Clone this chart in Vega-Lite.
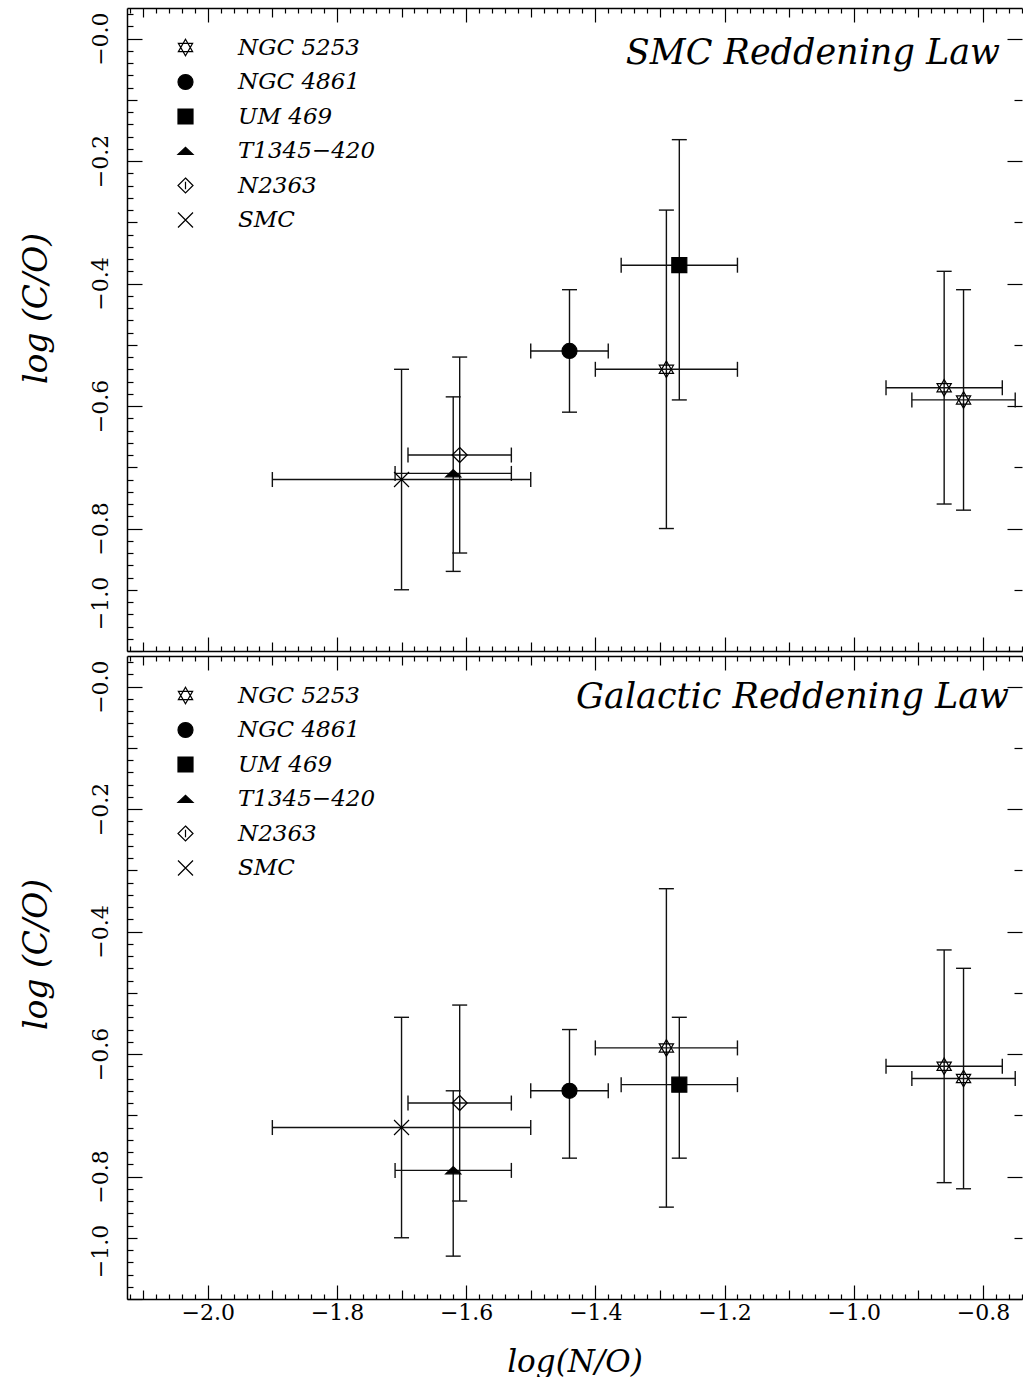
{
  "$schema": "https://vega.github.io/schema/vega-lite/v6.json",
  "padding": {"left": 20, "top": 7, "right": 0, "bottom": 0},
  "background": "white",
  "config": {
    "view": {"stroke": null},
    "font": "DejaVu Serif",
    "axis": {"grid": false, "domainColor": "black", "domainWidth": 1.5, "tickColor": "black", "tickWidth": 1.2, "labelColor": "black", "titleColor": "black", "labelFont": "DejaVu Serif", "titleFont": "DejaVu Serif", "labelFlush": false, "labelOverlap": false, "labelBound": false}
  },
  "datasets": {
    "smc": [
      {"name": "NGC 5253", "x": -1.29, "y": -0.54, "xlo": -1.40, "xhi": -1.18, "ylo": -0.80, "yhi": -0.28},
      {"name": "NGC 5253", "x": -0.86, "y": -0.57, "xlo": -0.95, "xhi": -0.77, "ylo": -0.76, "yhi": -0.38},
      {"name": "NGC 5253", "x": -0.83, "y": -0.59, "xlo": -0.91, "xhi": -0.75, "ylo": -0.77, "yhi": -0.41},
      {"name": "NGC 4861", "x": -1.44, "y": -0.51, "xlo": -1.50, "xhi": -1.38, "ylo": -0.61, "yhi": -0.41},
      {"name": "UM 469", "x": -1.27, "y": -0.37, "xlo": -1.36, "xhi": -1.18, "ylo": -0.59, "yhi": -0.165},
      {"name": "T1345−420", "x": -1.62, "y": -0.71, "xlo": -1.71, "xhi": -1.53, "ylo": -0.87, "yhi": -0.585},
      {"name": "N2363", "x": -1.61, "y": -0.68, "xlo": -1.69, "xhi": -1.53, "ylo": -0.84, "yhi": -0.52},
      {"name": "SMC", "x": -1.70, "y": -0.72, "xlo": -1.90, "xhi": -1.50, "ylo": -0.90, "yhi": -0.54}
    ],
    "gal": [
      {"name": "NGC 5253", "x": -1.29, "y": -0.59, "xlo": -1.40, "xhi": -1.18, "ylo": -0.85, "yhi": -0.33},
      {"name": "NGC 5253", "x": -0.86, "y": -0.62, "xlo": -0.95, "xhi": -0.77, "ylo": -0.81, "yhi": -0.43},
      {"name": "NGC 5253", "x": -0.83, "y": -0.64, "xlo": -0.91, "xhi": -0.75, "ylo": -0.82, "yhi": -0.46},
      {"name": "NGC 4861", "x": -1.44, "y": -0.66, "xlo": -1.50, "xhi": -1.38, "ylo": -0.77, "yhi": -0.56},
      {"name": "UM 469", "x": -1.27, "y": -0.65, "xlo": -1.36, "xhi": -1.18, "ylo": -0.77, "yhi": -0.54},
      {"name": "T1345−420", "x": -1.62, "y": -0.79, "xlo": -1.71, "xhi": -1.53, "ylo": -0.93, "yhi": -0.66},
      {"name": "N2363", "x": -1.61, "y": -0.68, "xlo": -1.69, "xhi": -1.53, "ylo": -0.84, "yhi": -0.52},
      {"name": "SMC", "x": -1.70, "y": -0.72, "xlo": -1.90, "xhi": -1.50, "ylo": -0.90, "yhi": -0.54}
    ]
  },
  "spacing": 3,
  "resolve": {"scale": {"shape": "independent", "fill": "independent", "stroke": "independent"}, "legend": {"shape": "independent", "fill": "independent", "stroke": "independent"}},
  "vconcat": [
    {
      "width": 895, "height": 643,
      "data": {"name": "smc"},
      "title": {"text": "SMC Reddening Law", "anchor": "end", "frame": "group", "offset": -92, "dx": -22, "baseline": "alphabetic", "font": "DejaVu Serif", "fontStyle": "italic", "fontWeight": "normal", "fontSize": 35, "color": "black"},
      "resolve": {"axis": {"x": "independent", "y": "independent"}},
      "layer": [
        {
          "mark": {"type": "rule", "color": "#111", "strokeWidth": 1.4},
          "encoding": {
            "x": {"field": "xlo", "type": "quantitative", "scale": {"domain": [-2.125, -0.7395], "nice": false, "zero": false},
              "axis": {"orient": "bottom", "tickCount": 70, "labels": false, "title": null,
                "tickSize": {"expr": "abs(round(datum.value*50)) % 10 == 0 ? -14 : (abs(round(datum.value*50)) % 5 == 0 ? -9 : -5)"}}},
            "x2": {"field": "xhi"},
            "y": {"field": "y", "type": "quantitative", "scale": {"domain": [-1.0, 0.05], "nice": false, "zero": false},
              "axis": {"orient": "left", "tickCount": 52,
                "tickSize": {"expr": "abs(round(datum.value*50)) % 10 == 0 ? -15 : (abs(round(datum.value*50)) % 5 == 0 ? -10 : -6)"},
                "labelExpr": "abs(round(datum.value*50)) % 10 == 0 ? '−' + format(abs(datum.value), '.1f') : ''",
                "labelAngle": 270, "labelAlign": "center", "labelBaseline": "bottom", "labelPadding": 30, "labelFontSize": 22,
                "labelOffset": {"condition": {"test": "datum.value < -0.99", "value": -48}, "value": 0},
                "title": "log (C/O)", "titleFontStyle": "italic", "titleFontWeight": "normal", "titleFontSize": 33,
                "titleAngle": 270, "titleAlign": "center", "titleBaseline": "bottom", "titleX": -74, "titleY": 300}}
          }
        },
        {
          "mark": {"type": "rule", "color": "#111", "strokeWidth": 1.4},
          "encoding": {
            "x": {"field": "x", "type": "quantitative", "scale": {"domain": [-2.125, -0.7395], "nice": false, "zero": false},
              "axis": {"orient": "top", "tickCount": 70, "labels": false, "title": null,
                "tickSize": {"expr": "abs(round(datum.value*50)) % 10 == 0 ? -14 : (abs(round(datum.value*50)) % 5 == 0 ? -9 : -5)"}}},
            "y": {"field": "ylo", "type": "quantitative", "scale": {"domain": [-1.0, 0.05], "nice": false, "zero": false},
              "axis": {"orient": "right", "tickCount": 10, "labels": false, "title": null, "domain": false,
                "tickSize": {"expr": "abs(round(datum.value*50)) % 10 == 0 ? -15 : -8"}}},
            "y2": {"field": "yhi"}
          }
        },
        {
          "mark": {"type": "point", "shape": "M0,-1L0,1", "size": 225, "stroke": "#111", "strokeWidth": 1.4, "filled": false, "opacity": 1},
          "encoding": {"x": {"field": "xlo", "type": "quantitative", "axis": null}, "y": {"field": "y", "type": "quantitative", "axis": null}}
        },
        {
          "mark": {"type": "point", "shape": "M0,-1L0,1", "size": 225, "stroke": "#111", "strokeWidth": 1.4, "filled": false, "opacity": 1},
          "encoding": {"x": {"field": "xhi", "type": "quantitative", "axis": null}, "y": {"field": "y", "type": "quantitative", "axis": null}}
        },
        {
          "mark": {"type": "point", "shape": "M-1,0L1,0", "size": 225, "stroke": "#111", "strokeWidth": 1.4, "filled": false, "opacity": 1},
          "encoding": {"x": {"field": "x", "type": "quantitative", "axis": null}, "y": {"field": "ylo", "type": "quantitative", "axis": null}}
        },
        {
          "mark": {"type": "point", "shape": "M-1,0L1,0", "size": 225, "stroke": "#111", "strokeWidth": 1.4, "filled": false, "opacity": 1},
          "encoding": {"x": {"field": "x", "type": "quantitative", "axis": null}, "y": {"field": "yhi", "type": "quantitative", "axis": null}}
        },
        {
          "mark": {"type": "point", "filled": false, "strokeWidth": 1.2, "size": 225, "opacity": 1},
          "encoding": {
            "x": {"field": "x", "type": "quantitative", "axis": null},
            "y": {"field": "y", "type": "quantitative", "axis": null},
            "shape": {"field": "name", "type": "nominal",
              "scale": {"domain": ["NGC 5253", "NGC 4861", "UM 469", "T1345−420", "N2363", "SMC"],
                "range": ["M0,-1.1L0.95,0.55L-0.95,0.55ZM0,1.1L0.95,-0.55L-0.95,-0.55Z", "circle", "square", "M-1,0.45L1,0.45L0,-0.5Z", "M0,-1L1,0L0,1L-1,0ZM0,-0.5L0,0.5", "M-1,-1L1,1M-1,1L1,-1"]},
              "legend": {"orient": "none", "legendX": 47, "legendY": 28, "direction": "vertical", "title": null, "padding": 0, "labelFont": "DejaVu Serif", "labelFontStyle": "italic", "labelFontSize": 23, "labelColor": "black", "labelOffset": 41, "labelLimit": 300, "rowPadding": 10.5, "symbolSize": 225, "symbolStrokeColor": "black", "symbolStrokeWidth": 1.2}},
            "fill": {"field": "name", "type": "nominal",
              "scale": {"domain": ["NGC 5253", "NGC 4861", "UM 469", "T1345−420", "N2363", "SMC"],
                "range": ["transparent", "black", "black", "black", "transparent", "transparent"]},
              "legend": {"orient": "none", "legendX": 47, "legendY": 28, "direction": "vertical", "title": null, "padding": 0, "labelFont": "DejaVu Serif", "labelFontStyle": "italic", "labelFontSize": 23, "labelColor": "black", "labelOffset": 41, "labelLimit": 300, "rowPadding": 10.5, "symbolSize": 225, "symbolStrokeColor": "black", "symbolStrokeWidth": 1.2}},
            "stroke": {"field": "name", "type": "nominal",
              "scale": {"domain": ["NGC 5253", "NGC 4861", "UM 469", "T1345−420", "N2363", "SMC"],
                "range": ["black", "black", "black", "black", "black", "black"]},
              "legend": {"orient": "none", "legendX": 47, "legendY": 28, "direction": "vertical", "title": null, "padding": 0, "labelFont": "DejaVu Serif", "labelFontStyle": "italic", "labelFontSize": 23, "labelColor": "black", "labelOffset": 41, "labelLimit": 300, "rowPadding": 10.5, "symbolSize": 225, "symbolStrokeColor": "black", "symbolStrokeWidth": 1.2}}
          }
        }
      ]
    },
    {
      "width": 895, "height": 643,
      "data": {"name": "gal"},
      "title": {"text": "Galactic Reddening Law", "anchor": "end", "frame": "group", "offset": -88, "dx": -13, "baseline": "alphabetic", "font": "DejaVu Serif", "fontStyle": "italic", "fontWeight": "normal", "fontSize": 35, "color": "black"},
      "resolve": {"axis": {"x": "independent", "y": "independent"}},
      "layer": [
        {
          "mark": {"type": "rule", "color": "#111", "strokeWidth": 1.4},
          "encoding": {
            "x": {"field": "xlo", "type": "quantitative", "scale": {"domain": [-2.125, -0.7395], "nice": false, "zero": false},
              "axis": {"orient": "bottom", "tickCount": 70,
                "tickSize": {"expr": "abs(round(datum.value*50)) % 10 == 0 ? -14 : (abs(round(datum.value*50)) % 5 == 0 ? -9 : -5)"},
                "labelExpr": "abs(round(datum.value*50)) % 10 == 0 ? '−' + format(abs(datum.value), '.1f') : ''",
                "labelAngle": 0, "labelAlign": "center", "labelBaseline": "top", "labelPadding": 17, "labelFontSize": 22,
                "title": "log(N/O)", "titleFontStyle": "italic", "titleFontWeight": "normal", "titleFontSize": 31, "titlePadding": 15}},
            "x2": {"field": "xhi"},
            "y": {"field": "y", "type": "quantitative", "scale": {"domain": [-1.0, 0.05], "nice": false, "zero": false},
              "axis": {"orient": "left", "tickCount": 52,
                "tickSize": {"expr": "abs(round(datum.value*50)) % 10 == 0 ? -15 : (abs(round(datum.value*50)) % 5 == 0 ? -10 : -6)"},
                "labelExpr": "abs(round(datum.value*50)) % 10 == 0 ? '−' + format(abs(datum.value), '.1f') : ''",
                "labelAngle": 270, "labelAlign": "center", "labelBaseline": "bottom", "labelPadding": 30, "labelFontSize": 22,
                "labelOffset": {"condition": {"test": "datum.value < -0.99", "value": -48}, "value": 0},
                "title": "log (C/O)", "titleFontStyle": "italic", "titleFontWeight": "normal", "titleFontSize": 33,
                "titleAngle": 270, "titleAlign": "center", "titleBaseline": "bottom", "titleX": -74, "titleY": 298}}
          }
        },
        {
          "mark": {"type": "rule", "color": "#111", "strokeWidth": 1.4},
          "encoding": {
            "x": {"field": "x", "type": "quantitative", "scale": {"domain": [-2.125, -0.7395], "nice": false, "zero": false},
              "axis": {"orient": "top", "tickCount": 70, "labels": false, "title": null,
                "tickSize": {"expr": "abs(round(datum.value*50)) % 10 == 0 ? -14 : (abs(round(datum.value*50)) % 5 == 0 ? -9 : -5)"}}},
            "y": {"field": "ylo", "type": "quantitative", "scale": {"domain": [-1.0, 0.05], "nice": false, "zero": false},
              "axis": {"orient": "right", "tickCount": 10, "labels": false, "title": null, "domain": false,
                "tickSize": {"expr": "abs(round(datum.value*50)) % 10 == 0 ? -15 : -8"}}},
            "y2": {"field": "yhi"}
          }
        },
        {
          "mark": {"type": "point", "shape": "M0,-1L0,1", "size": 225, "stroke": "#111", "strokeWidth": 1.4, "filled": false, "opacity": 1},
          "encoding": {"x": {"field": "xlo", "type": "quantitative", "axis": null}, "y": {"field": "y", "type": "quantitative", "axis": null}}
        },
        {
          "mark": {"type": "point", "shape": "M0,-1L0,1", "size": 225, "stroke": "#111", "strokeWidth": 1.4, "filled": false, "opacity": 1},
          "encoding": {"x": {"field": "xhi", "type": "quantitative", "axis": null}, "y": {"field": "y", "type": "quantitative", "axis": null}}
        },
        {
          "mark": {"type": "point", "shape": "M-1,0L1,0", "size": 225, "stroke": "#111", "strokeWidth": 1.4, "filled": false, "opacity": 1},
          "encoding": {"x": {"field": "x", "type": "quantitative", "axis": null}, "y": {"field": "ylo", "type": "quantitative", "axis": null}}
        },
        {
          "mark": {"type": "point", "shape": "M-1,0L1,0", "size": 225, "stroke": "#111", "strokeWidth": 1.4, "filled": false, "opacity": 1},
          "encoding": {"x": {"field": "x", "type": "quantitative", "axis": null}, "y": {"field": "yhi", "type": "quantitative", "axis": null}}
        },
        {
          "mark": {"type": "point", "filled": false, "strokeWidth": 1.2, "size": 225, "opacity": 1},
          "encoding": {
            "x": {"field": "x", "type": "quantitative", "axis": null},
            "y": {"field": "y", "type": "quantitative", "axis": null},
            "shape": {"field": "name", "type": "nominal",
              "scale": {"domain": ["NGC 5253", "NGC 4861", "UM 469", "T1345−420", "N2363", "SMC"],
                "range": ["M0,-1.1L0.95,0.55L-0.95,0.55ZM0,1.1L0.95,-0.55L-0.95,-0.55Z", "circle", "square", "M-1,0.45L1,0.45L0,-0.5Z", "M0,-1L1,0L0,1L-1,0ZM0,-0.5L0,0.5", "M-1,-1L1,1M-1,1L1,-1"]},
              "legend": {"orient": "none", "legendX": 47, "legendY": 28, "direction": "vertical", "title": null, "padding": 0, "labelFont": "DejaVu Serif", "labelFontStyle": "italic", "labelFontSize": 23, "labelColor": "black", "labelOffset": 41, "labelLimit": 300, "rowPadding": 10.5, "symbolSize": 225, "symbolStrokeColor": "black", "symbolStrokeWidth": 1.2}},
            "fill": {"field": "name", "type": "nominal",
              "scale": {"domain": ["NGC 5253", "NGC 4861", "UM 469", "T1345−420", "N2363", "SMC"],
                "range": ["transparent", "black", "black", "black", "transparent", "transparent"]},
              "legend": {"orient": "none", "legendX": 47, "legendY": 28, "direction": "vertical", "title": null, "padding": 0, "labelFont": "DejaVu Serif", "labelFontStyle": "italic", "labelFontSize": 23, "labelColor": "black", "labelOffset": 41, "labelLimit": 300, "rowPadding": 10.5, "symbolSize": 225, "symbolStrokeColor": "black", "symbolStrokeWidth": 1.2}},
            "stroke": {"field": "name", "type": "nominal",
              "scale": {"domain": ["NGC 5253", "NGC 4861", "UM 469", "T1345−420", "N2363", "SMC"],
                "range": ["black", "black", "black", "black", "black", "black"]},
              "legend": {"orient": "none", "legendX": 47, "legendY": 28, "direction": "vertical", "title": null, "padding": 0, "labelFont": "DejaVu Serif", "labelFontStyle": "italic", "labelFontSize": 23, "labelColor": "black", "labelOffset": 41, "labelLimit": 300, "rowPadding": 10.5, "symbolSize": 225, "symbolStrokeColor": "black", "symbolStrokeWidth": 1.2}}
          }
        }
      ]
    }
  ]
}
